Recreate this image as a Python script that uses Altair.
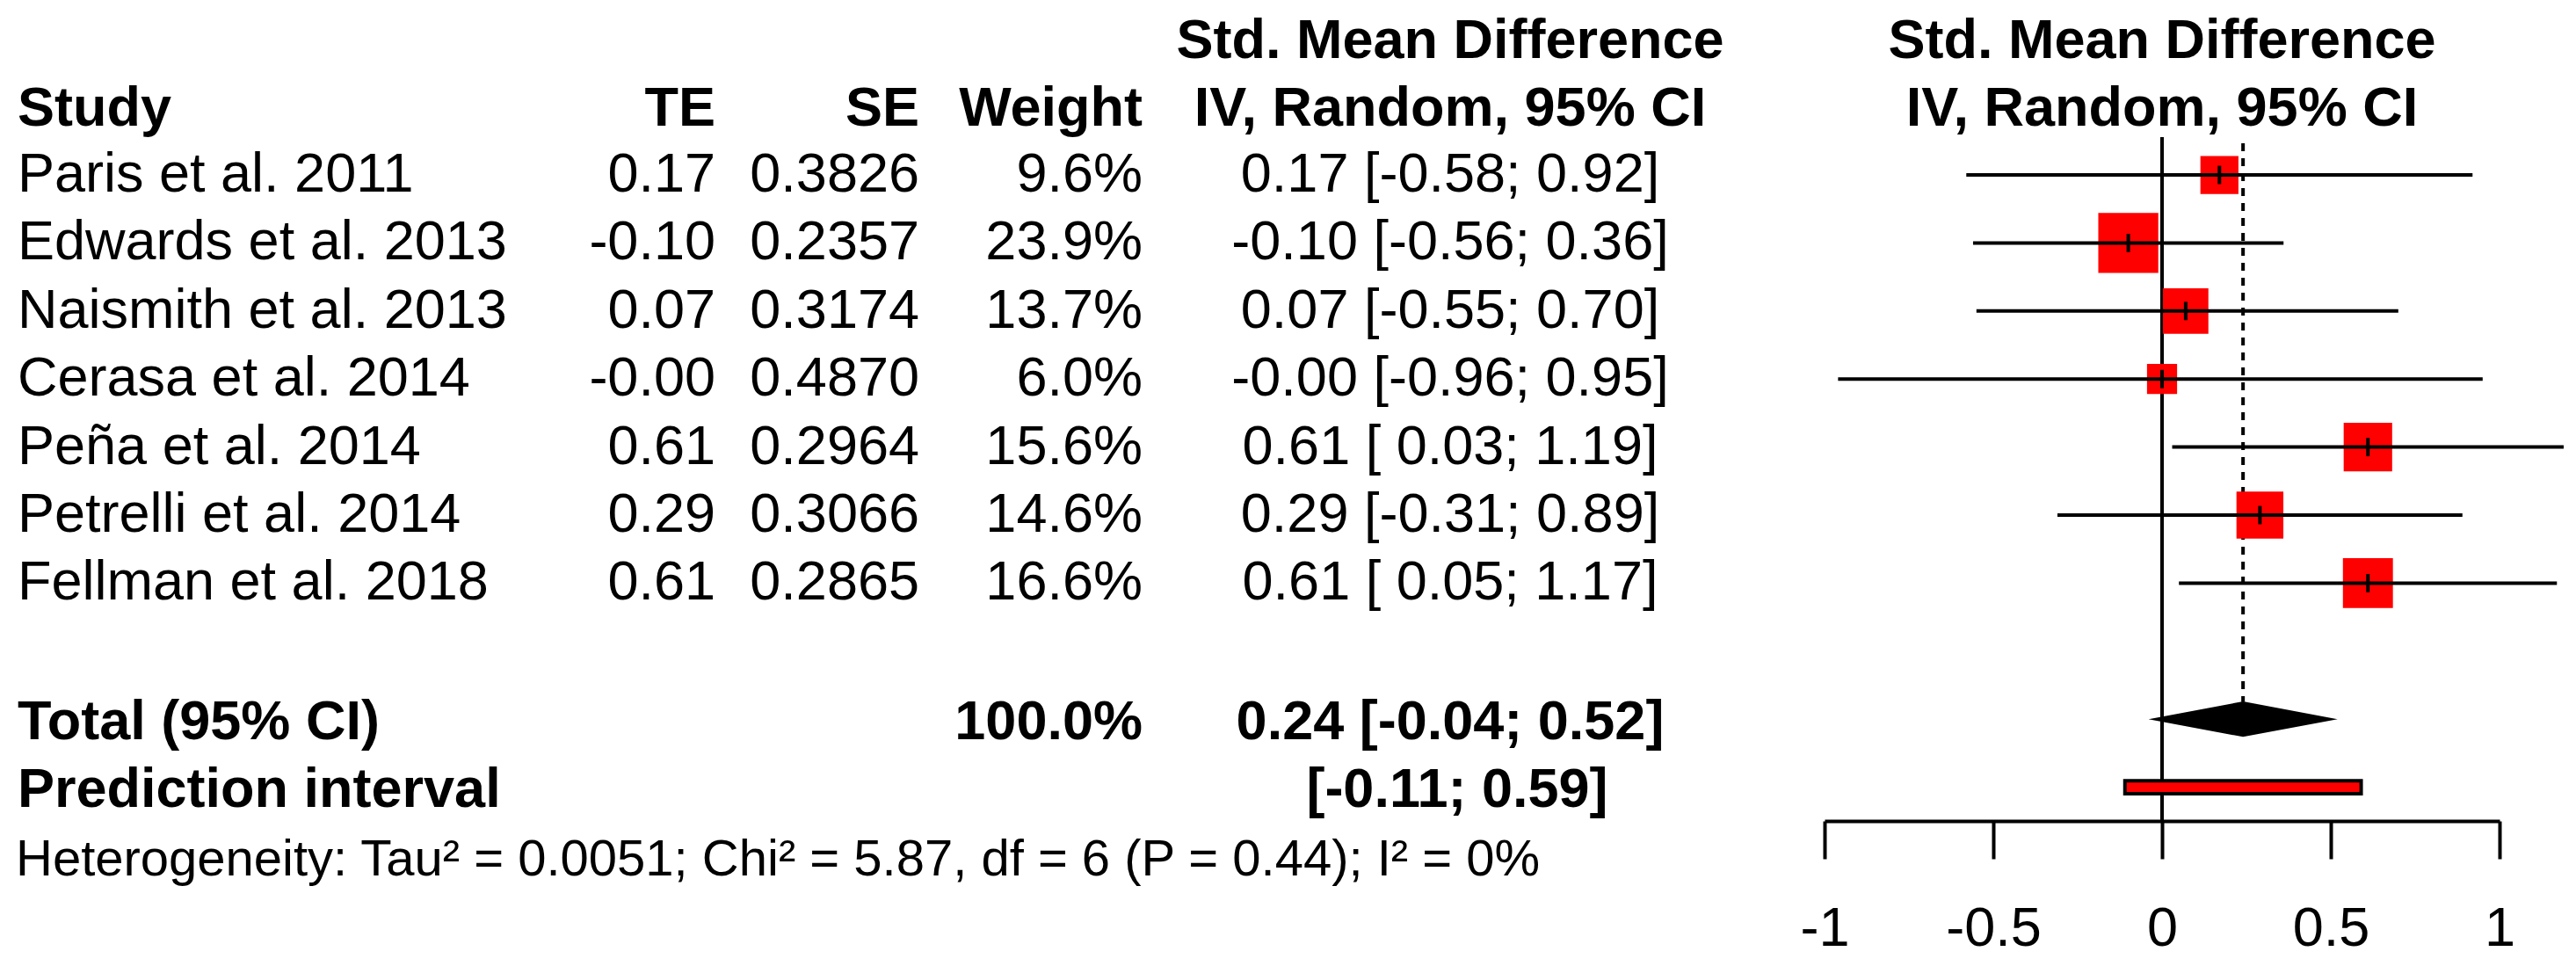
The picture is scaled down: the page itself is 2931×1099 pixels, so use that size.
import altair as alt
import pandas as pd

# ---------------- data ----------------
studies = ["Paris et al. 2011", "Edwards et al. 2013", "Naismith et al. 2013",
           "Cerasa et al. 2014", "Peña et al. 2014", "Petrelli et al. 2014",
           "Fellman et al. 2018"]
te = [0.17, -0.10, 0.07, -0.00, 0.61, 0.29, 0.61]
se = [0.3826, 0.2357, 0.3174, 0.4870, 0.2964, 0.3066, 0.2865]
weights = [9.6, 23.9, 13.7, 6.0, 15.6, 14.6, 16.6]
ci_low = [-0.58, -0.56, -0.55, -0.96, 0.03, -0.31, 0.05]
ci_high = [0.92, 0.36, 0.70, 0.95, 1.19, 0.89, 1.17]

total_label = "Total (95% CI)"
total_weight = 100.0
total_est = 0.24
total_low = -0.04
total_high = 0.52

pi_label = "Prediction interval"
pi_low = -0.11
pi_high = 0.59

het_text = "Heterogeneity: Tau² = 0.0051; Chi² = 5.87, df = 6 (P = 0.44); I² = 0%"
header_top = "Std. Mean Difference"
header_cols = ["Study", "TE", "SE", "Weight", "IV, Random, 95% CI"]
axis_ticks = [-1, -0.5, 0, 0.5, 1]

# ---------------- layout (row indices) ----------------
study_rows = list(range(1, len(studies) + 1))
total_row = 9
pi_row = 10
het_row = 11.08
head1_row = -0.97
head2_row = 0.03
axis_row = 10.496

FONT = "Liberation Sans"
FS = 63
RED = "#FF0000"
LW = 4

Y_SCALE = alt.Scale(domain=[-1.468, axis_row], reverse=True, zero=False, nice=False)
X_SCALE = alt.Scale(domain=[-1, 1], range=[2068, 2836], zero=False, nice=False)
X_AXIS = alt.Axis(values=axis_ticks, labelExpr="'' + datum.value", title=None, grid=False,
                  tickSize=43, tickWidth=LW, tickColor="black", domainWidth=LW,
                  domainColor="black", labelFontSize=FS, labelFont=FONT,
                  labelColor="black", labelPadding=48, labelFlush=False, orient="bottom")


def X(field):
    return alt.X(field, type="quantitative", scale=X_SCALE, axis=X_AXIS)


def Y(field):
    return alt.Y(field, type="quantitative", scale=Y_SCALE, axis=None)


def fmt_ci(est, lo, hi):
    return f"{est:.2f} [{lo:5.2f}; {hi:.2f}]"


# study table
sdf = pd.DataFrame({
    "row": study_rows,
    "study": studies,
    "te": te,
    "te_txt": [f"{v:.2f}" for v in te],
    "se_txt": [f"{v:.4f}" for v in se],
    "w_txt": [f"{v:.1f}%" for v in weights],
    "ci_txt": [fmt_ci(e, l, h) for e, l, h in zip(te, ci_low, ci_high)],
    "lo": ci_low,
    "hi": ci_high,
    "sq": [w * 195 for w in weights],
    "tk_top": [r - 0.135 for r in study_rows],
    "tk_bot": [r + 0.135 for r in study_rows],
})

base_s = alt.Chart(sdf)


def text_layer(data, field, xpix, align, bold=False, size=FS):
    return alt.Chart(data).mark_text(
        align=align, baseline="middle", font=FONT, fontSize=size,
        fontWeight="bold" if bold else "normal", color="black"
    ).encode(x=alt.value(xpix), y=Y("row"), text=alt.Text(field, type="nominal"))


COL_STUDY = 12
COL_TE = 806
COL_SE = 1038
COL_W = 1292
COL_CI = 1642

layers = []
# study text columns
layers.append(text_layer(sdf, "study", COL_STUDY, "left"))
layers.append(text_layer(sdf, "te_txt", COL_TE, "right"))
layers.append(text_layer(sdf, "se_txt", COL_SE, "right"))
layers.append(text_layer(sdf, "w_txt", COL_W, "right"))
layers.append(text_layer(sdf, "ci_txt", COL_CI, "center"))

# headers
h1 = pd.DataFrame({"row": [head1_row], "t": [header_top]})
h2 = pd.DataFrame({"row": [head2_row] * 5, "t": header_cols})
layers.append(text_layer(h1, "t", COL_CI, "center", bold=True))
for i, (xp, al) in enumerate([(COL_STUDY, "left"), (COL_TE, "right"), (COL_SE, "right"),
                              (COL_W, "right"), (COL_CI, "center")]):
    layers.append(text_layer(h2.iloc[[i]], "t", xp, al, bold=True))
# right headers centered on zero of effect axis
rh = pd.DataFrame({"row": [head1_row, head2_row], "t": [header_top, header_cols[4]], "xpos": [0, 0]})
layers.append(alt.Chart(rh).mark_text(
    align="center", baseline="middle", font=FONT, fontSize=FS, fontWeight="bold", color="black"
).encode(x=X("xpos"), y=Y("row"), text="t:N"))

# summary rows
tdf = pd.DataFrame({"row": [total_row + 0.05], "lab": [total_label],
                    "w": [f"{total_weight:.1f}%"],
                    "ci": [fmt_ci(total_est, total_low, total_high)]})
layers.append(text_layer(tdf, "lab", COL_STUDY, "left", bold=True))
layers.append(text_layer(tdf, "w", COL_W, "right", bold=True))
layers.append(text_layer(tdf, "ci", COL_CI, "center", bold=True))
pdf_ = pd.DataFrame({"row": [pi_row + 0.05], "lab": [pi_label],
                     "ci": [f"[{pi_low:.2f}; {pi_high:.2f}]"]})
layers.append(text_layer(pdf_, "lab", COL_STUDY, "left", bold=True))
layers.append(text_layer(pdf_, "ci", COL_CI + 8, "center", bold=True))
hdf = pd.DataFrame({"row": [het_row], "t": [het_text]})
layers.append(text_layer(hdf, "t", 10, "left", size=58))

# reference lines
zl = pd.DataFrame({"x": [0], "y": [0.444], "y2": [axis_row]})
layers.append(alt.Chart(zl).mark_rule(color="black", strokeWidth=LW).encode(
    x=X("x"), y=Y("y"), y2="y2"))
dl = pd.DataFrame({"x": [total_est], "y": [0.535], "y2": [total_row - 0.25]})
layers.append(alt.Chart(dl).mark_rule(color="black", strokeWidth=LW, strokeDash=[9, 8]).encode(
    x=X("x"), y=Y("y"), y2="y2"))

# squares, CI lines, estimate ticks
layers.append(base_s.mark_square(color=RED, opacity=1, filled=True).encode(
    x=X("te"), y=Y("row"), size=alt.Size("sq:Q", scale=None, legend=None)))
layers.append(base_s.mark_rule(color="black", strokeWidth=LW).encode(
    x=X("lo"), x2="hi", y=Y("row")))
layers.append(base_s.mark_rule(color="black", strokeWidth=LW).encode(
    x=X("te"), y=Y("tk_top"), y2="tk_bot"))

# diamond
h = 0.26
ddf = pd.DataFrame({"x": [total_low, total_est, total_high],
                    "y": [total_row, total_row - h, total_row],
                    "y2": [total_row, total_row + h, total_row]})
layers.append(alt.Chart(ddf).mark_area(color="black", orient="vertical", opacity=1).encode(
    x=X("x"), y=alt.Y("y", type="quantitative", scale=Y_SCALE, axis=None, stack=False), y2="y2"))

# prediction interval bar
pbar = pd.DataFrame({"lo": [pi_low], "hi": [pi_high], "y": [pi_row - 0.095], "y2": [pi_row + 0.095]})
layers.append(alt.Chart(pbar).mark_rect(fill=RED, stroke="black", strokeWidth=LW).encode(
    x=X("lo"), x2="hi", y=Y("y"), y2="y2"))

chart = alt.layer(*layers).properties(
    width=2915, height=926, padding=0, background="white"
).configure_view(strokeWidth=0, stroke="transparent")

chart.save("out.html", embed_options={"renderer": "svg", "actions": False})
